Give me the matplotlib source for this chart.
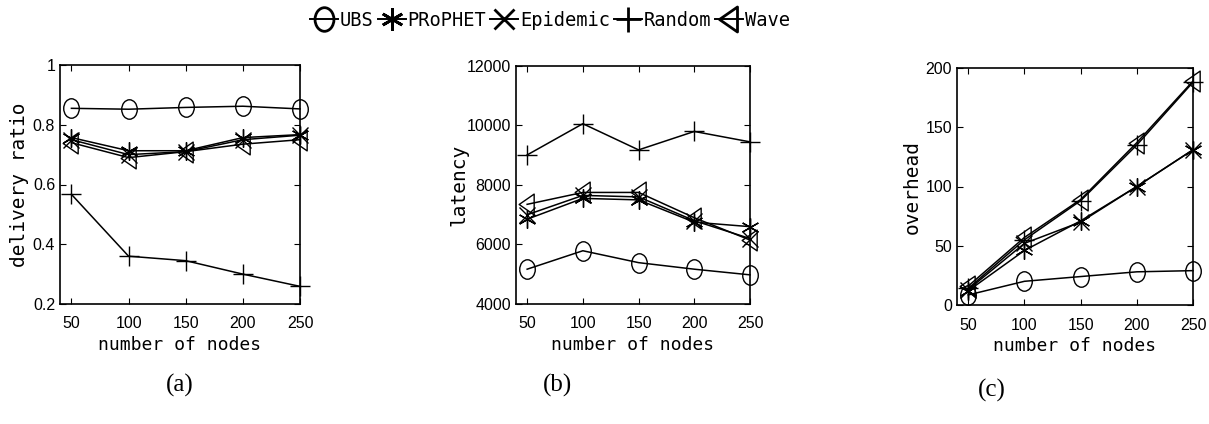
import matplotlib
matplotlib.use("Agg")
import numpy as np
import matplotlib.pyplot as plt
from matplotlib.lines import Line2D
from matplotlib.path import Path

# number of nodes on the x axis
nodes = [50, 100, 150, 200, 250]

# (a) delivery ratio
ubs_ratio = [0.855, 0.852, 0.858, 0.862, 0.853]
prophet_ratio = [0.757, 0.713, 0.713, 0.757, 0.767]
epidemic_ratio = [0.750, 0.700, 0.710, 0.750, 0.765]
random_ratio = [0.567, 0.360, 0.345, 0.300, 0.259]
wave_ratio = [0.740, 0.690, 0.710, 0.735, 0.750]

# (b) latency
ubs_latency = [5170, 5790, 5390, 5170, 4980]
prophet_latency = [6850, 7550, 7500, 6750, 6600]
epidemic_latency = [7000, 7650, 7600, 6800, 6200]
random_latency = [9010, 10060, 9180, 9800, 9450]
wave_latency = [7350, 7750, 7750, 6900, 6150]

# (c) overhead
ubs_overhead = [8.5, 20, 24, 28, 29]
prophet_overhead = [12, 46, 71, 100, 131]
epidemic_overhead = [13, 52, 70, 100, 131]
random_overhead = [14, 55, 88, 135, 188]
wave_overhead = [16, 57, 89, 137, 189]

series_names = ["UBS", "PRoPHET", "Epidemic", "Random", "Wave"]

# matlab-style markers, slightly stretched vertically like the scanned figure
circ = Path.unit_circle()
ellipse = Path(circ.vertices * np.array([1.0, 1.25]), circ.codes)
tri_left = Path([(-1.0, 0.0), (0.8, 1.25), (0.8, -1.25), (-1.0, 0.0)],
                [Path.MOVETO, Path.LINETO, Path.LINETO, Path.CLOSEPOLY])
markers = [ellipse, (6, 2, 0), "x", "+", tri_left]
marker_sizes = [14, 13, 12, 15, 15]

panels = [
    ("delivery ratio", [ubs_ratio, prophet_ratio, epidemic_ratio, random_ratio, wave_ratio],
     (0.2, 1.0), [0.2, 0.4, 0.6, 0.8, 1.0], ["0.2", "0.4", "0.6", "0.8", "1"], "(a)", 3),
    ("latency", [ubs_latency, prophet_latency, epidemic_latency, random_latency, wave_latency],
     (4000, 12000), [4000, 6000, 8000, 10000, 12000], ["4000", "6000", "8000", "10000", "12000"], "(b)", -1),
    ("overhead", [ubs_overhead, prophet_overhead, epidemic_overhead, random_overhead, wave_overhead],
     (0, 200), [0, 50, 100, 150, 200], ["0", "50", "100", "150", "200"], "(c)", 3),
]

W, H = 1209, 424
# axes boxes in pixels: left, right, top, bottom
boxes = [(60, 300, 65, 304), (516, 750, 66, 304), (957, 1193, 68, 305)]
caption_pos = [(180, 385), (557, 385), (992, 390)]

mono = "DejaVu Sans Mono"
fig = plt.figure(figsize=(W / 100, H / 100), dpi=100)

for (ylabel, ys, ylim, yticks, yticklabels, cap, ypad), (l, r, t, b), (cx, cy) in zip(panels, boxes, caption_pos):
    ax = fig.add_axes([l / W, 1 - b / H, (r - l) / W, (b - t) / H])
    for y, m, ms in zip(ys, markers, marker_sizes):
        ax.plot(nodes, y, color="black", linewidth=1.1, marker=m, markersize=ms,
                markerfacecolor="none", markeredgecolor="black", markeredgewidth=1.0,
                clip_on=False)
    ax.set_xlim(40, 250)
    ax.set_ylim(*ylim)
    ax.set_xticks(nodes)
    ax.set_yticks(yticks)
    ax.set_yticklabels(yticklabels)
    ax.tick_params(direction="in", top=True, right=True, length=4, labelsize=11.5)
    ax.tick_params(axis="x", pad=9)
    for lab in ax.get_xticklabels() + ax.get_yticklabels():
        lab.set_family("Liberation Sans")
    for s in ax.spines.values():
        s.set_linewidth(1.2)
    ax.set_xlabel("number of nodes", family=mono, fontsize=13, labelpad=3)
    ax.set_ylabel(ylabel, family=mono, fontsize=14, labelpad=ypad)
    fig.text(cx / W, 1 - cy / H, cap, family="Liberation Serif", fontsize=18,
             ha="center", va="center")

handles = [Line2D([], [], color="black", linewidth=1.4, marker=m, markersize=ms + 3,
                  markerfacecolor="none", markeredgecolor="black", markeredgewidth=2.0)
           for m, ms in zip(markers, marker_sizes)]
fig.legend(handles, series_names, loc="center", bbox_to_anchor=(550 / W, 1 - 20 / H),
           ncol=5, frameon=False, prop={"family": mono, "size": 13.5},
           handlelength=1.5, handletextpad=0.1, columnspacing=0.2, borderpad=0)

fig.savefig("out.png", dpi=100)
